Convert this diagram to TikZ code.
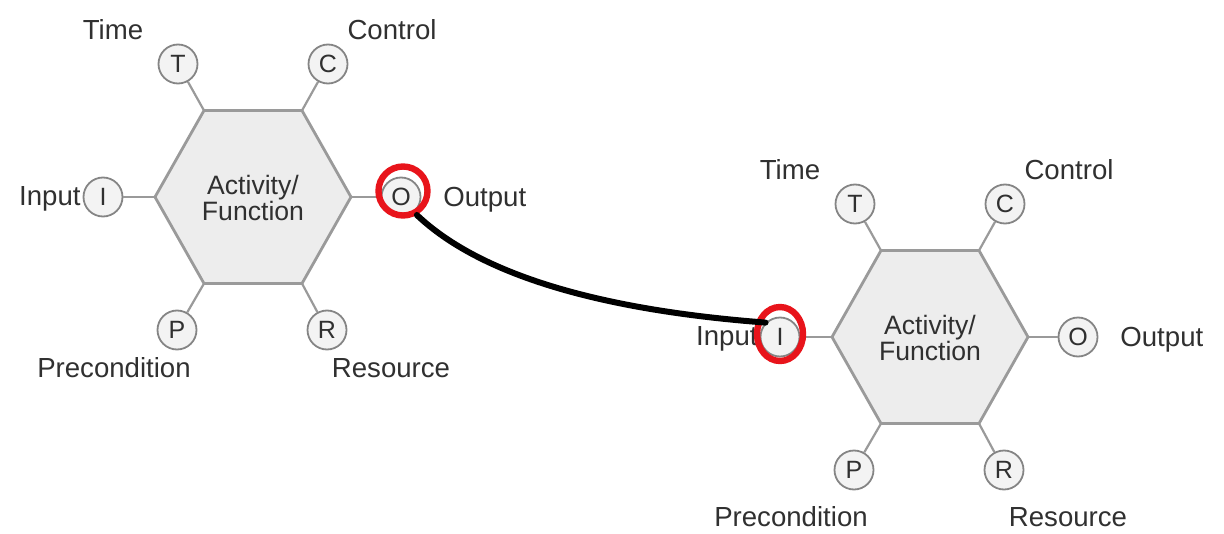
\documentclass[tikz,border=0pt]{standalone}
\usepackage{fontspec}
\setmainfont{Liberation Sans}
\usetikzlibrary{shapes.geometric}

\definecolor{hexfill}{HTML}{EDEDED}
\definecolor{hexline}{HTML}{9A9A9A}
\definecolor{portfill}{HTML}{F3F3F3}
\definecolor{portline}{HTML}{858585}
\definecolor{ink}{HTML}{303030}
\definecolor{markred}{HTML}{E8141B}

\tikzset{
  hexagon/.style={draw=hexline, fill=hexfill, line width=1.4pt, line join=round},
  link/.style={draw=hexline, line width=1.1pt},
  port/.style={circle, draw=portline, fill=portfill, line width=0.9pt,
    minimum size=19.5pt, inner sep=0pt, text=ink,
    font=\fontsize{12.5}{12.5}\selectfont},
  lbl/.style={text=ink, inner sep=0pt, font=\fontsize{13.8}{14}\selectfont},
  caption/.style={text=ink, inner sep=0pt, align=center,
    font=\fontsize{13.3}{13.2}\selectfont},
  ring/.style={draw=markred, line width=3.2pt, inner sep=0pt, fill=none},
  flow/.style={draw=black, line width=3pt, line cap=round},
  % one activity/function block; #1 = vertical offset of the bottom labels
  func/.pic={
    \coordinate (-e)  at (98,0);
    \coordinate (-ne) at (49,-86.5);
    \coordinate (-nw) at (-49,-86.5);
    \coordinate (-w)  at (-98,0);
    \coordinate (-sw) at (-49,86.5);
    \coordinate (-se) at (49,86.5);
    \path[hexagon] (-e) -- (-ne) -- (-nw) -- (-w) -- (-sw) -- (-se) -- cycle;
    \node[caption] (-F) at (0,1) {Activity/\\Function};
    \node[port] (-T) at (-75,-133) {T};
    \node[port] (-C) at (75,-133) {C};
    \node[port] (-I) at (-150,0) {I};
    \node[port] (-O) at (148,0) {O};
    \node[port] (-P) at (-76,133) {P};
    \node[port] (-R) at (74,133) {R};
    \draw[link] (-T) -- (-nw);
    \draw[link] (-C) -- (-ne);
    \draw[link] (-I) -- (-w);
    \draw[link] (-O) -- (-e);
    \draw[link] (-P) -- (-sw);
    \draw[link] (-R) -- (-se);
    \node[lbl] (-tT) at (-140,-167) {Time};
    \node[lbl] (-tC) at (139,-167) {Control};
    \node[lbl, anchor=east] (-tI) at (-172,2) {Input};
    \node[lbl, anchor=west] (-tO) at (190,3) {Output};
    \node[lbl] (-tP) at (-139,#1) {Precondition};
    \node[lbl] (-tR) at (138,#1) {Resource};
  }
}

\begin{document}
\begin{tikzpicture}[x=0.5pt, y=-0.5pt]
  \useasboundingbox (0,0) rectangle (1224,534);

  \pic (L) at (253,197) {func=171};
  \pic (R) at (930,337) {func=180};

  % highlighted ports
  \node[ring, circle, minimum size=24.5pt] (ringO) at (403,191) {};
  \node[ring, ellipse, minimum width=23pt, minimum height=27pt] (ringI) at (780,334) {};

  % output of the first block feeds the input of the second
  \draw[flow] (ringO.-60) .. controls (480,275) and (600,310) .. (R-I.north west);
\end{tikzpicture}
\end{document}
